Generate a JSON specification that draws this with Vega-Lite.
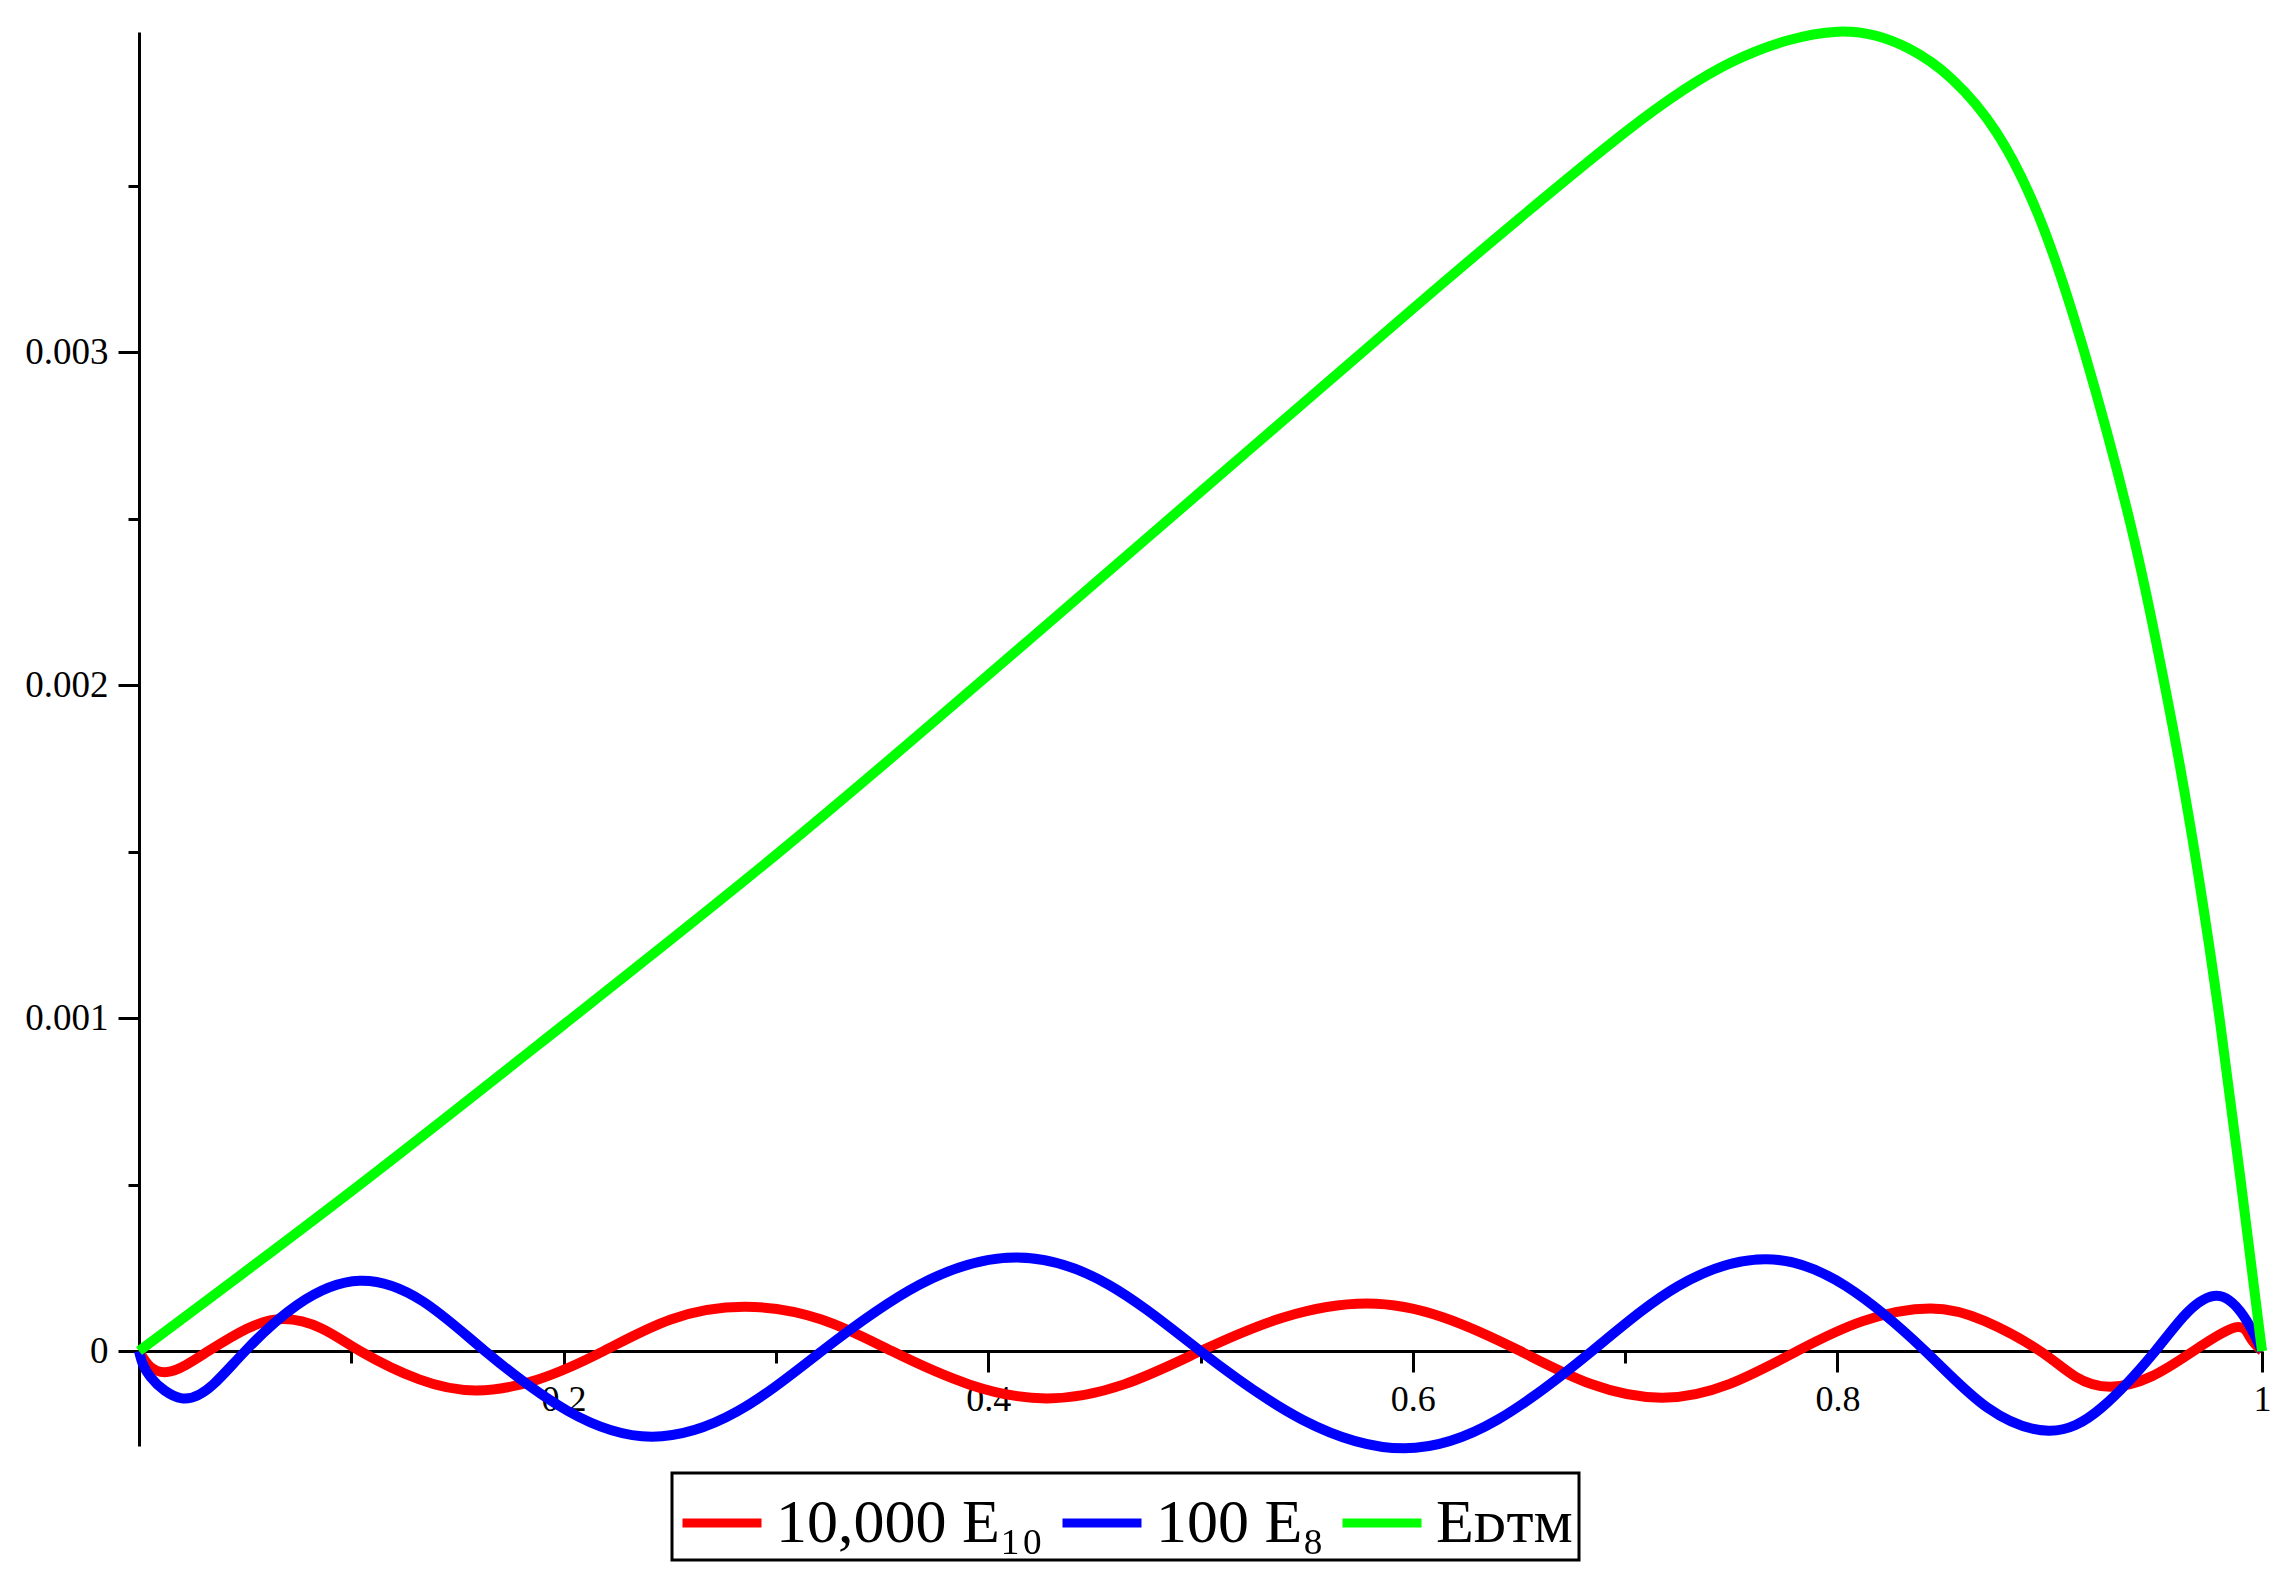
{
  "$schema": "https://vega.github.io/schema/vega-lite/v6.json",
  "width": 2123,
  "height": 1414,
  "autosize": "none",
  "padding": {"left": 139, "top": 32, "right": 29, "bottom": 133},
  "background": "white",
  "config": {
    "view": {"stroke": null},
    "font": "Liberation Serif",
    "legend": {"strokeWidth": 3}
  },
  "data": {
    "values": [
      {"s": "10,000 E₁₀", "x": 0, "y": 0},
      {"s": "10,000 E₁₀", "x": 0.0053, "y": -0.000047},
      {"s": "10,000 E₁₀", "x": 0.0131, "y": -0.000063},
      {"s": "10,000 E₁₀", "x": 0.022, "y": -0.000042},
      {"s": "10,000 E₁₀", "x": 0.0327, "y": 0},
      {"s": "10,000 E₁₀", "x": 0.0508, "y": 0.000067},
      {"s": "10,000 E₁₀", "x": 0.068, "y": 0.000096},
      {"s": "10,000 E₁₀", "x": 0.086, "y": 0.000068},
      {"s": "10,000 E₁₀", "x": 0.1042, "y": 0},
      {"s": "10,000 E₁₀", "x": 0.132, "y": -0.000085},
      {"s": "10,000 E₁₀", "x": 0.159, "y": -0.000118},
      {"s": "10,000 E₁₀", "x": 0.188, "y": -0.000085},
      {"s": "10,000 E₁₀", "x": 0.2188, "y": 0},
      {"s": "10,000 E₁₀", "x": 0.2505, "y": 0.000095},
      {"s": "10,000 E₁₀", "x": 0.2855, "y": 0.000133},
      {"s": "10,000 E₁₀", "x": 0.3215, "y": 0.000095},
      {"s": "10,000 E₁₀", "x": 0.3546, "y": 0},
      {"s": "10,000 E₁₀", "x": 0.391, "y": -0.0001},
      {"s": "10,000 E₁₀", "x": 0.4276, "y": -0.000142},
      {"s": "10,000 E₁₀", "x": 0.464, "y": -0.0001},
      {"s": "10,000 E₁₀", "x": 0.5, "y": 0},
      {"s": "10,000 E₁₀", "x": 0.539, "y": 0.000101},
      {"s": "10,000 E₁₀", "x": 0.5784, "y": 0.000143},
      {"s": "10,000 E₁₀", "x": 0.6145, "y": 0.000101},
      {"s": "10,000 E₁₀", "x": 0.6506, "y": 0},
      {"s": "10,000 E₁₀", "x": 0.684, "y": -0.000099},
      {"s": "10,000 E₁₀", "x": 0.7173, "y": -0.00014},
      {"s": "10,000 E₁₀", "x": 0.749, "y": -0.000099},
      {"s": "10,000 E₁₀", "x": 0.781, "y": 0},
      {"s": "10,000 E₁₀", "x": 0.812, "y": 0.00009},
      {"s": "10,000 E₁₀", "x": 0.8437, "y": 0.000128},
      {"s": "10,000 E₁₀", "x": 0.8695, "y": 0.00009},
      {"s": "10,000 E₁₀", "x": 0.8955, "y": 0},
      {"s": "10,000 E₁₀", "x": 0.912, "y": -0.000076},
      {"s": "10,000 E₁₀", "x": 0.9285, "y": -0.000107},
      {"s": "10,000 E₁₀", "x": 0.948, "y": -0.000076},
      {"s": "10,000 E₁₀", "x": 0.9677, "y": 0},
      {"s": "10,000 E₁₀", "x": 0.9874, "y": 0.000071},
      {"s": "10,000 E₁₀", "x": 0.9945, "y": 0.00004},
      {"s": "10,000 E₁₀", "x": 1, "y": 0},

      {"s": "100 E₈", "x": 0, "y": 0},
      {"s": "100 E₈", "x": 0.0053, "y": -0.000077},
      {"s": "100 E₈", "x": 0.0202, "y": -0.000142},
      {"s": "100 E₈", "x": 0.035, "y": -0.0001},
      {"s": "100 E₈", "x": 0.05, "y": 0},
      {"s": "100 E₈", "x": 0.0744, "y": 0.000138},
      {"s": "100 E₈", "x": 0.104, "y": 0.000211},
      {"s": "100 E₈", "x": 0.1335, "y": 0.00015},
      {"s": "100 E₈", "x": 0.163, "y": 0},
      {"s": "100 E₈", "x": 0.202, "y": -0.00018},
      {"s": "100 E₈", "x": 0.2416, "y": -0.000257},
      {"s": "100 E₈", "x": 0.2816, "y": -0.000182},
      {"s": "100 E₈", "x": 0.3216, "y": 0},
      {"s": "100 E₈", "x": 0.3675, "y": 0.000199},
      {"s": "100 E₈", "x": 0.4135, "y": 0.000281},
      {"s": "100 E₈", "x": 0.4568, "y": 0.000199},
      {"s": "100 E₈", "x": 0.5, "y": 0},
      {"s": "100 E₈", "x": 0.548, "y": -0.000206},
      {"s": "100 E₈", "x": 0.596, "y": -0.000292},
      {"s": "100 E₈", "x": 0.64, "y": -0.000206},
      {"s": "100 E₈", "x": 0.6844, "y": 0},
      {"s": "100 E₈", "x": 0.725, "y": 0.000195},
      {"s": "100 E₈", "x": 0.766, "y": 0.000276},
      {"s": "100 E₈", "x": 0.804, "y": 0.000195},
      {"s": "100 E₈", "x": 0.8414, "y": 0},
      {"s": "100 E₈", "x": 0.8705, "y": -0.000169},
      {"s": "100 E₈", "x": 0.8995, "y": -0.000239},
      {"s": "100 E₈", "x": 0.9246, "y": -0.000169},
      {"s": "100 E₈", "x": 0.9497, "y": 0},
      {"s": "100 E₈", "x": 0.965, "y": 0.000117},
      {"s": "100 E₈", "x": 0.9803, "y": 0.000165},
      {"s": "100 E₈", "x": 0.9929, "y": 0.00009},
      {"s": "100 E₈", "x": 1, "y": 0},

      {"s": "Eᴅᴛᴍ", "x": 0, "y": 0},
      {"s": "Eᴅᴛᴍ", "x": 0.1, "y": 0.00048},
      {"s": "Eᴅᴛᴍ", "x": 0.2, "y": 0.00098},
      {"s": "Eᴅᴛᴍ", "x": 0.3, "y": 0.00149},
      {"s": "Eᴅᴛᴍ", "x": 0.4, "y": 0.00203},
      {"s": "Eᴅᴛᴍ", "x": 0.5, "y": 0.00258},
      {"s": "Eᴅᴛᴍ", "x": 0.6, "y": 0.00313},
      {"s": "Eᴅᴛᴍ", "x": 0.65, "y": 0.0034},
      {"s": "Eᴅᴛᴍ", "x": 0.7, "y": 0.00366},
      {"s": "Eᴅᴛᴍ", "x": 0.75, "y": 0.00387},
      {"s": "Eᴅᴛᴍ", "x": 0.8, "y": 0.003962},
      {"s": "Eᴅᴛᴍ", "x": 0.8334, "y": 0.003912},
      {"s": "Eᴅᴛᴍ", "x": 0.8541, "y": 0.003819},
      {"s": "Eᴅᴛᴍ", "x": 0.8748, "y": 0.003661},
      {"s": "Eᴅᴛᴍ", "x": 0.8956, "y": 0.003396},
      {"s": "Eᴅᴛᴍ", "x": 0.9163, "y": 0.003},
      {"s": "Eᴅᴛᴍ", "x": 0.937, "y": 0.002511},
      {"s": "Eᴅᴛᴍ", "x": 0.95, "y": 0.002134},
      {"s": "Eᴅᴛᴍ", "x": 0.96, "y": 0.001804},
      {"s": "Eᴅᴛᴍ", "x": 0.97, "y": 0.00143},
      {"s": "Eᴅᴛᴍ", "x": 0.98, "y": 0.001},
      {"s": "Eᴅᴛᴍ", "x": 0.99, "y": 0.00051},
      {"s": "Eᴅᴛᴍ", "x": 1, "y": 0}
    ]
  },
  "mark": {"type": "line", "strokeWidth": 10, "interpolate": "natural", "clip": false},
  "encoding": {
    "x": {
      "field": "x",
      "type": "quantitative",
      "scale": {"domain": [0, 1], "nice": false, "zero": false},
      "axis": {
        "orient": "bottom",
        "offset": -95,
        "values": [0.1, 0.2, 0.3, 0.4, 0.5, 0.6, 0.7, 0.8, 0.9, 1],
        "grid": false,
        "title": null,
        "domainColor": "black",
        "domainWidth": 3,
        "tickColor": "black",
        "tickWidth": 3,
        "tickSize": {"condition": {"test": "round(datum.value*10)%2==0", "value": 21}, "value": 12},
        "labelExpr": "round(datum.value*10)%2==0 ? format(datum.value,'~g') : ''",
        "labelFont": "Liberation Serif",
        "labelFontSize": 36,
        "labelColor": "black",
        "labelPadding": 10,
        "labelFlush": false,
        "labelOverlap": false
      }
    },
    "y": {
      "field": "y",
      "type": "quantitative",
      "scale": {"domain": [-0.000285, 0.003961], "nice": false, "zero": false},
      "axis": {
        "orient": "left",
        "values": [0, 0.0005, 0.001, 0.0015, 0.002, 0.0025, 0.003, 0.0035],
        "grid": false,
        "title": null,
        "domainColor": "black",
        "domainWidth": 3,
        "tickColor": "black",
        "tickWidth": 3,
        "tickSize": {"condition": {"test": "round(datum.value*2000)%2==0", "value": 21}, "value": 11},
        "labelExpr": "round(datum.value*2000)%2==0 ? format(datum.value,'~g') : ''",
        "labelFont": "Liberation Serif",
        "labelFontSize": 37,
        "labelColor": "black",
        "labelPadding": 10,
        "labelFlush": false,
        "labelOverlap": false
      }
    },
    "color": {
      "field": "s",
      "type": "nominal",
      "scale": {"domain": ["10,000 E₁₀", "100 E₈", "Eᴅᴛᴍ"], "range": ["#ff0000", "#0000ff", "#00ff00"]},
      "legend": {
        "orient": "none",
        "legendX": 533,
        "legendY": 1441,
        "direction": "horizontal",
        "title": null,
        "symbolType": "stroke",
        "symbolStrokeWidth": 9,
        "symbolSize": 6241,
        "labelFont": "Liberation Serif",
        "labelFontSize": 62,
        "labelColor": "black",
        "labelLimit": 0,
        "labelOffset": 10,
        "columnPadding": 0,
        "padding": 6,
        "strokeColor": "black",
        "fillColor": "white"
      }
    }
  }
}
